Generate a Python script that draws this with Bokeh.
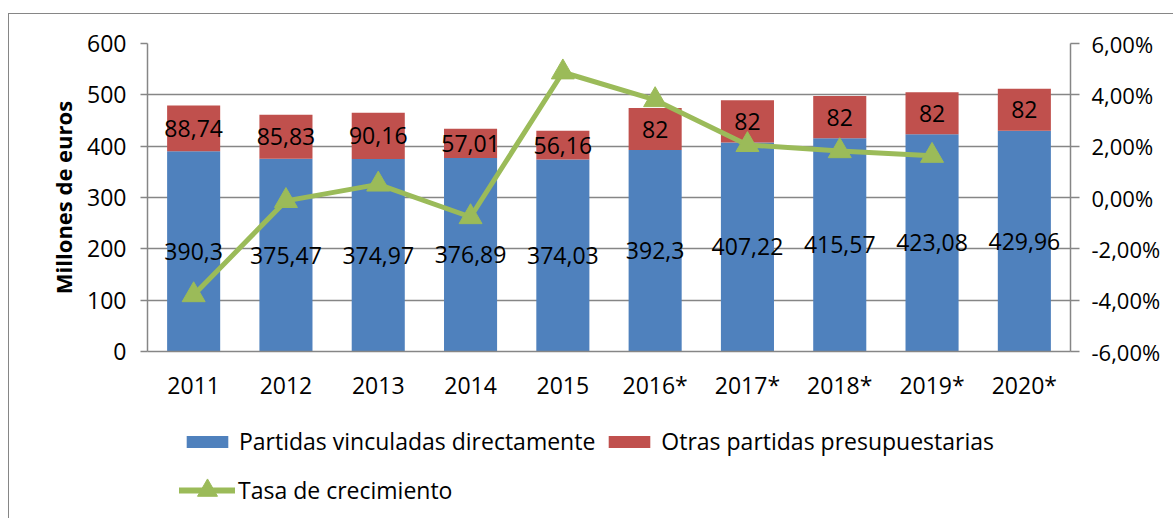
import numpy as np
from bokeh.plotting import figure
from bokeh.layouts import column
from bokeh.models import (FactorRange, Range1d, LinearAxis, FixedTicker, CustomJSTickFormatter,
                          Legend, LegendItem, ColumnDataSource)
from bokeh.core.properties import value
from bokeh.embed import file_html
from bokeh.resources import INLINE

years = ["2011", "2012", "2013", "2014", "2015", "2016*", "2017*", "2018*", "2019*", "2020*"]
partidas_vinculadas = [390.3, 375.47, 374.97, 376.89, 374.03, 392.3, 407.22, 415.57, 423.08, 429.96]
otras_partidas = [88.74, 85.83, 90.16, 57.01, 56.16, 82, 82, 82, 82, 82]
growth_years = ["2011", "2012", "2013", "2014", "2015", "2016*", "2017*", "2018*", "2019*"]
tasa_crecimiento = [-0.0380, -0.0013, 0.0051, -0.0076, 0.0488, 0.0380, 0.0205, 0.0181, 0.0163]
left_ticks = [0, 100, 200, 300, 400, 500, 600]
right_ticks = [-0.06, -0.04, -0.02, 0.0, 0.02, 0.04, 0.06]

FONT = "Open Sans"
BLUE = "#4F81BD"
RED = "#C0504D"
GREEN = "#9BBB59"
GRAY = "#868686"

def fmt(v):
    s = ("%.2f" % v).rstrip("0").rstrip(".")
    return s.replace(".", ",")

blue = np.array(partidas_vinculadas)
red = np.array(otras_partidas)
src = ColumnDataSource(dict(
    x=years, blue=blue, red=red,
    blue_y=blue / 2, red_y=blue + red / 2,
    blue_lbl=[fmt(v) for v in blue], red_lbl=[fmt(v) for v in red],
))

# canvas origin of the figures is at (9, 14) in the page
p = figure(width=1164, height=400, x_range=FactorRange(*years), y_range=Range1d(0, 600),
           output_backend="svg", toolbar_location=None,
           min_border_left=138, min_border_right=103, min_border_top=29, min_border_bottom=63)
p.outline_line_color = None
p.background_fill_color = "white"
p.border_fill_color = "white"

p.extra_y_ranges = {"pct": Range1d(-0.06, 0.06)}

rs = p.vbar_stack(["blue", "red"], x="x", width=0.575, color=[BLUE, RED], source=src,
                  line_color=None)

p.text(x="x", y="blue_y", text="blue_lbl", source=src, text_align="center",
       text_baseline="middle", text_font=value(FONT), text_font_size="23px", text_color="black")
p.text(x="x", y="red_y", text="red_lbl", source=src, text_align="center",
       text_baseline="middle", text_font=value(FONT), text_font_size="23px", text_color="black")

gsrc = ColumnDataSource(dict(x=growth_years, y=tasa_crecimiento))
gl = p.line(x="x", y="y", source=gsrc, y_range_name="pct", line_color=GREEN, line_width=5)
gm = p.scatter(x="x", y="y", source=gsrc, y_range_name="pct", marker="triangle", size=23,
               fill_color=GREEN, line_color=GREEN)

# axes
p.yaxis.ticker = FixedTicker(ticks=left_ticks)
p.yaxis.axis_label = "Millones de euros"
p.yaxis.axis_label_text_font = FONT
p.yaxis.axis_label_text_font_style = "bold"
p.yaxis.axis_label_text_font_size = "22px"
p.yaxis.axis_label_text_color = "black"
p.yaxis.axis_label_standoff = 6
p.yaxis.major_label_text_font = FONT
p.yaxis.major_label_text_font_size = "23px"
p.yaxis.major_label_text_color = "black"
p.yaxis.major_label_standoff = 14
p.yaxis.major_tick_out = 7
p.yaxis.major_tick_in = 0
p.yaxis.minor_tick_out = 0
p.yaxis.minor_tick_in = 0
p.yaxis.axis_line_color = GRAY
p.yaxis.axis_line_width = 1.5
p.yaxis.major_tick_line_color = GRAY
p.yaxis.major_tick_line_width = 1.5

p.xaxis.major_label_text_font = FONT
p.xaxis.major_label_text_font_size = "23px"
p.xaxis.major_label_text_color = "black"
p.xaxis.major_label_standoff = 17
p.xaxis.major_tick_out = 0
p.xaxis.major_tick_in = 0
p.xaxis.axis_line_color = GRAY
p.xaxis.axis_line_width = 1.5

ra = LinearAxis(y_range_name="pct", ticker=FixedTicker(ticks=right_ticks),
                formatter=CustomJSTickFormatter(code="return (tick*100).toFixed(2).replace('.', ',') + '%';"))
ra.major_label_text_font = FONT
ra.major_label_text_font_size = "22px"
ra.major_label_text_color = "black"
ra.major_label_standoff = 12
ra.major_tick_out = 9
ra.major_tick_in = 0
ra.minor_tick_out = 0
ra.minor_tick_in = 0
ra.axis_line_color = GRAY
ra.axis_line_width = 1.5
ra.major_tick_line_color = GRAY
ra.major_tick_line_width = 1.5
p.add_layout(ra, "right")

p.xgrid.grid_line_color = None
p.ygrid.ticker = FixedTicker(ticks=left_ticks)
p.ygrid.grid_line_color = GRAY
p.ygrid.grid_line_width = 1.5

# legend panel (second figure below the chart; its frame aligns with the chart frame)
p2 = figure(width=1164, height=104, x_range=Range1d(0, 1), y_range=Range1d(0, 1),
            x_axis_type=None, y_axis_type=None, output_backend="svg", toolbar_location=None,
            min_border=0)
p2.outline_line_color = None
p2.grid.visible = False
nan = [float("nan")]
lb = p2.vbar(x=nan, top=nan, width=0.5, fill_color=BLUE, line_color=None)
lr = p2.vbar(x=nan, top=nan, width=0.5, fill_color=RED, line_color=None)
ll = p2.line(x=nan, y=nan, line_color=GREEN, line_width=6, line_cap="round")
lm = p2.scatter(x=nan, y=nan, marker="triangle", size=21, fill_color=GREEN, line_color=GREEN)

leg1 = Legend(items=[LegendItem(label="Partidas vinculadas directamente", renderers=[lb]),
                     LegendItem(label="Otras partidas presupuestarias", renderers=[lr])],
              orientation="horizontal", location=(34, 61), glyph_width=52, glyph_height=15,
              label_standoff=6, spacing=8, padding=0, margin=0,
              label_text_font=FONT, label_text_font_size="23px", label_text_color="black",
              border_line_color=None, background_fill_alpha=0)
leg2 = Legend(items=[LegendItem(label="Tasa de crecimiento", renderers=[ll, lm])],
              orientation="horizontal", location=(32, 3), glyph_width=56, glyph_height=50,
              label_standoff=3, padding=0, margin=0,
              label_text_font=FONT, label_text_font_size="23px", label_text_color="black",
              border_line_color=None, background_fill_alpha=0)
p2.add_layout(leg1, "center")
p2.add_layout(leg2, "center")

layout = column(p, p2, spacing=0, margin=(13, 0, 0, 8),
                styles={"border-left": "1px solid #868686", "border-top": "1px solid #868686"})

open("out.html", "w").write(file_html(layout, INLINE))
